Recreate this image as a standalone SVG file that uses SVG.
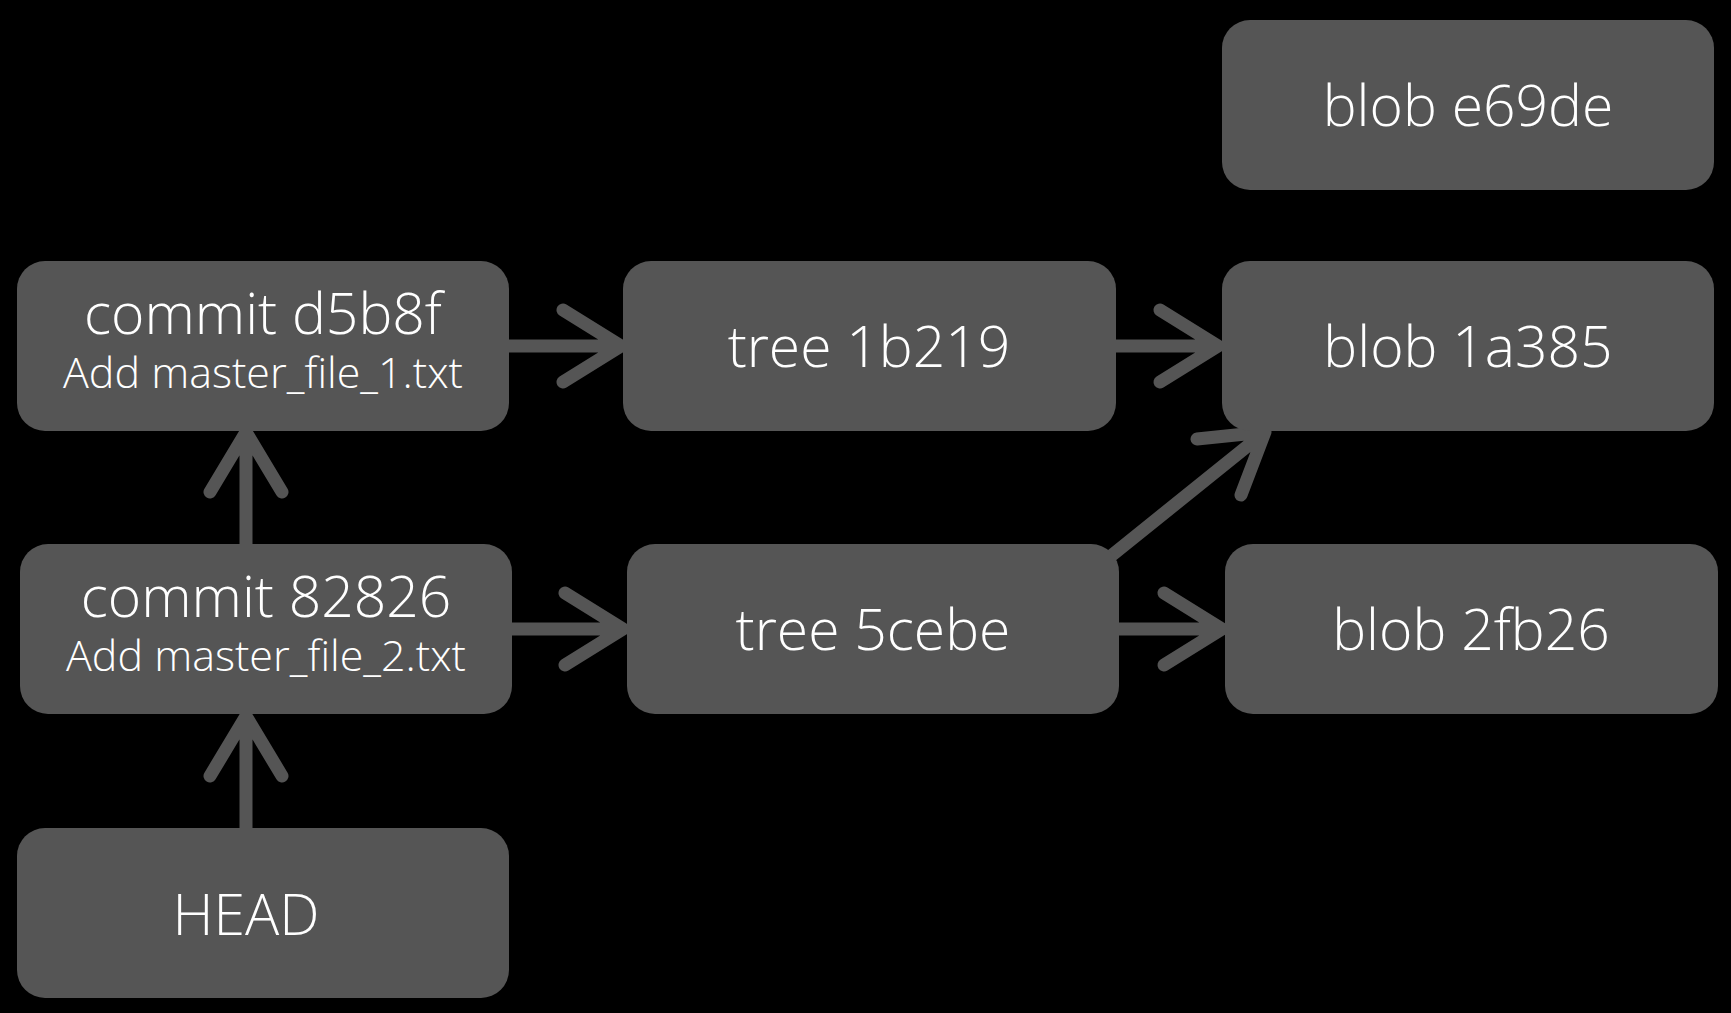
<svg xmlns="http://www.w3.org/2000/svg" width="1731" height="1013" viewBox="0 0 1731 1013">
<style>
.box{fill:#555555;}
.t{font-family:"Open Sans","DejaVu Sans",sans-serif;font-weight:300;fill:#ffffff;text-anchor:middle;font-size:57px;}
.s{font-size:43px;}
.c{fill:none;stroke:#555555;stroke-width:13;stroke-linecap:round;stroke-linejoin:round;}
</style>
<rect width="1731" height="1013" fill="#000000"/>
<g id="connectors">
<path class="c" d="M246 544V432M210 492L246 432L282 492"/>
<path class="c" d="M246 828V716M210 776L246 716L282 776"/>
<path class="c" d="M509 346H621M563 310L621 346L563 382"/>
<path class="c" d="M512 629H623M565 593L623 629L565 665"/>
<path class="c" d="M1115 346H1218M1160 310L1218 346L1160 382"/>
<path class="c" d="M1119 629H1222M1164 593L1222 629L1164 665"/>
<path class="c" d="M1106 560L1265 432M1197 439L1265 432L1241 495"/>
</g>
<g id="blob-e69de"><rect class="box" x="1222" y="20" width="492" height="170" rx="28"/><text class="t" x="1468" y="126">blob e69de</text></g>
<g id="commit-d5b8f"><rect class="box" x="17" y="261" width="492" height="170" rx="28"/><text class="t" x="263" y="334">commit d5b8f</text><text class="t s" x="263" y="388">Add master_file_1.txt</text></g>
<g id="tree-1b219"><rect class="box" x="623" y="261" width="493" height="170" rx="28"/><text class="t" x="869" y="367">tree 1b219</text></g>
<g id="blob-1a385"><rect class="box" x="1222" y="261" width="492" height="170" rx="28"/><text class="t" x="1468" y="367">blob 1a385</text></g>
<g id="commit-82826"><rect class="box" x="20" y="544" width="492" height="170" rx="28"/><text class="t" x="266" y="617">commit 82826</text><text class="t s" x="266" y="671">Add master_file_2.txt</text></g>
<g id="tree-5cebe"><rect class="box" x="627" y="544" width="492" height="170" rx="28"/><text class="t" x="873" y="650">tree 5cebe</text></g>
<g id="blob-2fb26"><rect class="box" x="1225" y="544" width="493" height="170" rx="28"/><text class="t" x="1471" y="650">blob 2fb26</text></g>
<g id="head"><rect class="box" x="17" y="828" width="492" height="170" rx="28"/><text class="t" x="246" y="935">HEAD</text></g>
</svg>
